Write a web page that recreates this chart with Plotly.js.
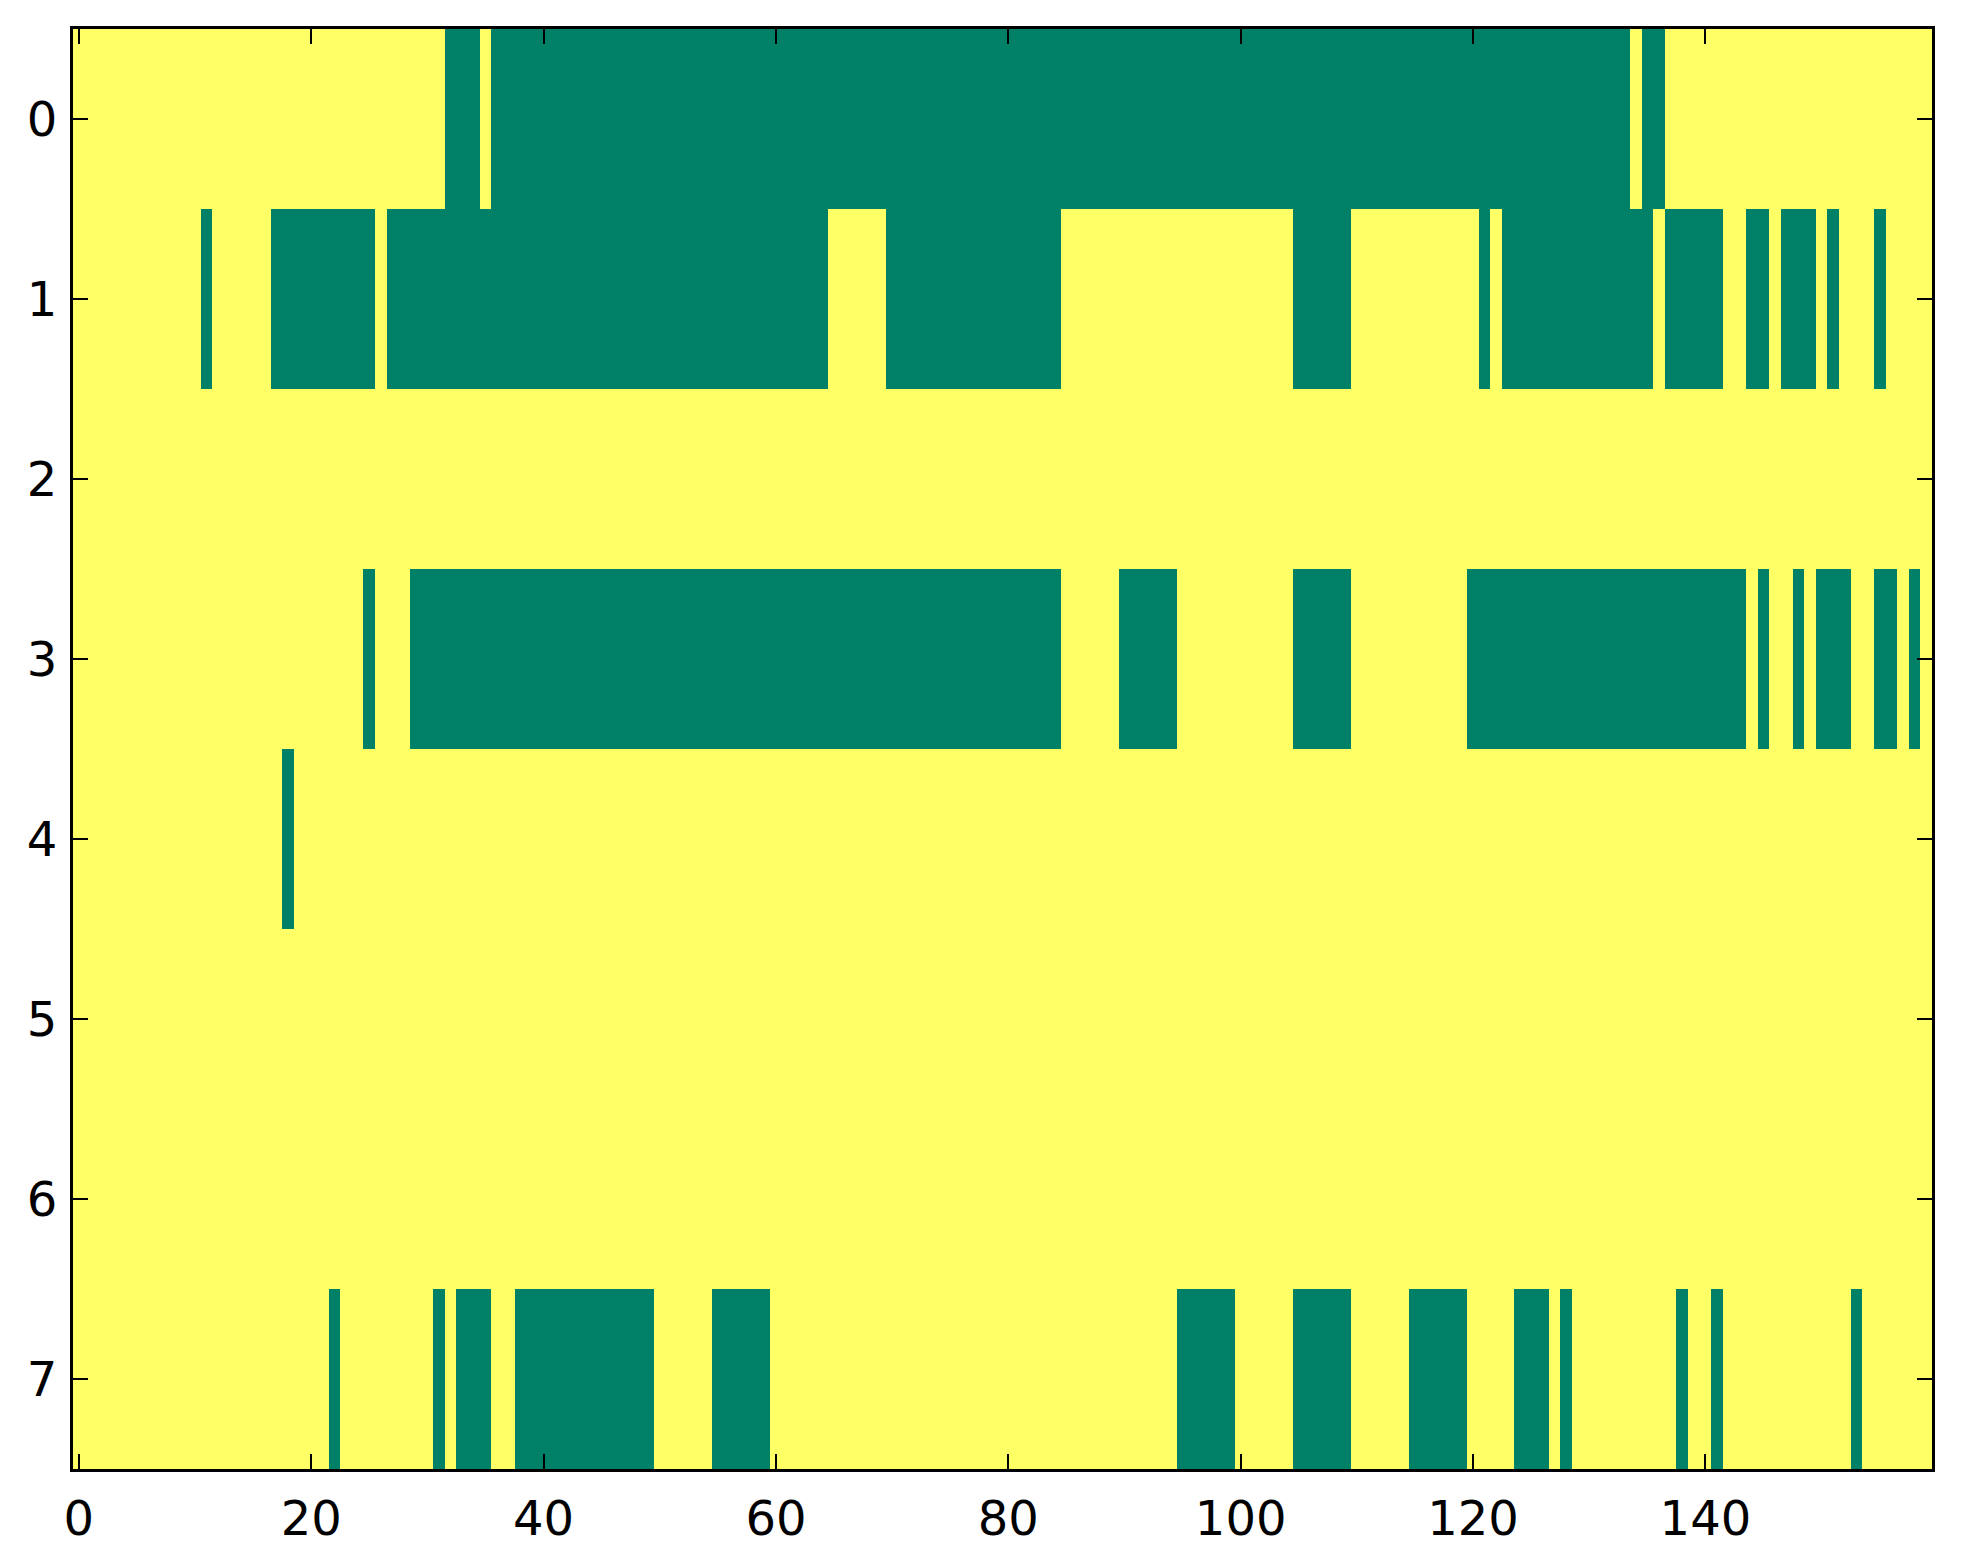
<!DOCTYPE html>
<html>
<head>
<meta charset="utf-8">
<script src="https://cdn.plot.ly/plotly-3.0.1.min.js"></script>
<style>
  html, body { margin: 0; padding: 0; background: #ffffff; }
  #chart { width: 1963px; height: 1564px; }
</style>
</head>
<body>
<div id="chart"></div>
<script>
// Binary matrix (8 rows x 160 columns). Each row lists runs [start, end] of value 0
// (drawn green); all other cells have value 1 (drawn yellow).
const nCols = 160;
const rowLabels = [0, 1, 2, 3, 4, 5, 6, 7];
const row0Zeros = [[32, 34], [36, 133], [135, 136]];
const row1Zeros = [[11, 11], [17, 25], [27, 64], [70, 84], [105, 109], [121, 121], [123, 135], [137, 141], [144, 145], [147, 149], [151, 151], [155, 155]];
const row2Zeros = [];
const row3Zeros = [[25, 25], [29, 84], [90, 94], [105, 109], [120, 143], [145, 145], [148, 148], [150, 152], [155, 156], [158, 158]];
const row4Zeros = [[18, 18]];
const row5Zeros = [];
const row6Zeros = [];
const row7Zeros = [[22, 22], [31, 31], [33, 35], [38, 49], [55, 59], [95, 99], [105, 109], [115, 119], [124, 126], [128, 128], [138, 138], [141, 141], [153, 153]];
const xTickVals = [0, 20, 40, 60, 80, 100, 120, 140];

const allRuns = [row0Zeros, row1Zeros, row2Zeros, row3Zeros, row4Zeros, row5Zeros, row6Zeros, row7Zeros];
const xCols = [];
for (let c = 0; c < nCols; c++) xCols.push(c);
const z = allRuns.map(runs => {
  const row = new Array(nCols).fill(1);
  runs.forEach(([a, b]) => { for (let c = a; c <= b; c++) row[c] = 0; });
  return row;
});

const trace = {
  type: 'heatmap',
  x: xCols,
  y: rowLabels,
  z: z,
  zmin: 0,
  zmax: 1,
  zsmooth: false,
  showscale: false,
  colorscale: [[0, '#008066'], [1, '#ffff66']],
  hoverinfo: 'x+y+z'
};

const axisCommon = {
  showgrid: false,
  zeroline: false,
  showline: true,
  linecolor: '#000000',
  linewidth: 3,
  mirror: 'ticks',
  ticks: 'inside',
  ticklen: 15,
  tickwidth: 2,
  tickcolor: '#000000',
  tickfont: { family: 'DejaVu Sans', size: 48, color: '#000000' }
};

const layout = {
  width: 1963,
  height: 1564,
  paper_bgcolor: '#ffffff',
  plot_bgcolor: '#ffffff',
  margin: { l: 73, r: 31, t: 29, b: 95, pad: 0 },
  showlegend: false,
  xaxis: Object.assign({}, axisCommon, {
    range: [-0.5, nCols - 0.5],
    tickmode: 'array',
    tickvals: xTickVals,
    ticktext: xTickVals.map(String),
    ticklabelstandoff: 5
  }),
  yaxis: Object.assign({}, axisCommon, {
    range: [7.5, -0.5],
    tickmode: 'array',
    tickvals: rowLabels,
    ticktext: rowLabels.map(String),
    ticklabelstandoff: 3
  })
};

Plotly.newPlot('chart', [trace], layout, { displayModeBar: false, staticPlot: true });
</script>
</body>
</html>
